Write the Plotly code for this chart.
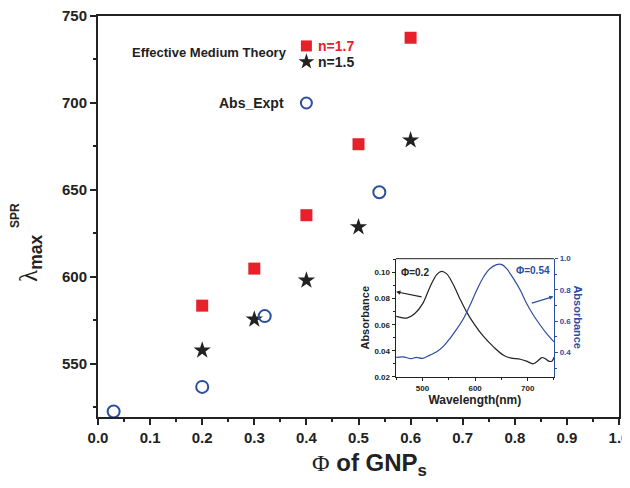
import plotly.graph_objects as go

# ---- main data ----
phi_theory = [0.2, 0.3, 0.4, 0.5, 0.6]
spr_n17 = [583.5, 604.8, 635.5, 676.3, 737.5]
spr_n15 = [557.8, 575.6, 598.0, 628.7, 678.6]
phi_expt = [0.03, 0.2, 0.32, 0.54]
spr_expt = [522.7, 536.8, 577.5, 648.7]

# legend key positions (data coords)
key_x = [0.4, 0.4, 0.4]
key_y = [732.8, 723.7, 700.0]

# ---- inset data ----
wl_02 = [450, 460, 470, 485, 500, 514, 527, 536, 546, 558, 571, 584, 600, 616, 635, 654, 667,
         686, 698, 710, 717, 727, 733, 740, 746, 750]
abs_02 = [0.0664, 0.0655, 0.0651, 0.0684, 0.0760, 0.0888, 0.0985, 0.1010, 0.0990, 0.0913, 0.0800,
          0.0697, 0.0595, 0.0510, 0.0430, 0.0366, 0.0345, 0.0335, 0.0320, 0.0300, 0.0315, 0.0348,
          0.0340, 0.0320, 0.0320, 0.0350]
wl_054 = [450, 463, 478, 488, 500, 514, 527, 540, 552, 565, 578, 590, 603, 616, 628, 641, 651,
          660, 673, 686, 698, 711, 724, 736, 750]
abs_054 = [0.368, 0.372, 0.360, 0.368, 0.362, 0.383, 0.404, 0.440, 0.489, 0.549, 0.617, 0.700,
           0.798, 0.883, 0.936, 0.962, 0.962, 0.936, 0.872, 0.798, 0.713, 0.638, 0.574, 0.521, 0.468]

RED = "#e8202a"
BLUE = "#2b4ea2"
BLK = "#222222"
FONT = "Liberation Sans, Arial, sans-serif"

fig = go.Figure()

fig.add_trace(go.Scatter(x=phi_theory, y=spr_n17, mode="markers",
                         marker=dict(symbol="square", size=12, color=RED), xaxis="x", yaxis="y"))
fig.add_trace(go.Scatter(x=phi_theory, y=spr_n15, mode="markers",
                         marker=dict(symbol="star", size=13, color=BLK), xaxis="x", yaxis="y"))
fig.add_trace(go.Scatter(x=phi_expt, y=spr_expt, mode="markers",
                         marker=dict(symbol="circle-open", size=12, color=BLUE, line=dict(width=2)),
                         xaxis="x", yaxis="y"))
# legend keys
fig.add_trace(go.Scatter(x=[key_x[0]], y=[key_y[0]], mode="markers",
                         marker=dict(symbol="square", size=11, color=RED)))
fig.add_trace(go.Scatter(x=[key_x[1]], y=[key_y[1]], mode="markers",
                         marker=dict(symbol="star", size=12, color=BLK)))
fig.add_trace(go.Scatter(x=[key_x[2]], y=[key_y[2]], mode="markers",
                         marker=dict(symbol="circle-open", size=11, color=BLUE, line=dict(width=2))))

# inset
fig.add_trace(go.Scatter(x=wl_02, y=abs_02, mode="lines", line=dict(color=BLK, width=1.2, shape="spline"),
                         xaxis="x2", yaxis="y2"))
fig.add_trace(go.Scatter(x=wl_054, y=abs_054, mode="lines", line=dict(color=BLUE, width=1.2, shape="spline"),
                         xaxis="x2", yaxis="y3"))

tickfont = dict(family=FONT, size=15, color=BLK, weight="bold")
itick = dict(family=FONT, size=8, color=BLK, weight="bold")

fig.update_layout(
    width=622, height=472,
    margin=dict(l=90, r=11, t=8, b=63, autoexpand=False),
    paper_bgcolor="white", plot_bgcolor="white",
    showlegend=False,
    xaxis=dict(range=[0, 1], domain=[0, 1], dtick=0.1, tickformat=".1f", automargin=False,
               ticklabeloverflow="allow",
               ticks="outside", ticklen=6, tickwidth=1.5, tickcolor=BLK,
               showline=True, linecolor=BLK, linewidth=2, mirror=True,
               showgrid=False, zeroline=False, tickfont=tickfont,
               minor=dict(dtick=0.05, ticks="outside", ticklen=3, tickcolor=BLK)),
    yaxis=dict(range=[519.5, 750], domain=[0, 1], dtick=50, automargin=False,
               ticklabeloverflow="allow",
               ticks="outside", ticklen=6, tickwidth=1.5, tickcolor=BLK,
               showline=True, linecolor=BLK, linewidth=2, mirror=True,
               showgrid=False, zeroline=False, tickfont=tickfont,
               minor=dict(dtick=25, ticks="outside", ticklen=3, tickcolor=BLK)),
    xaxis2=dict(range=[449, 750], domain=[0.5714, 0.8752], anchor="y2", dtick=100, automargin=False,
                ticks="outside", ticklen=3, tickcolor=BLK, showline=True, linecolor=BLK,
                linewidth=1.2, mirror=False, showgrid=False, zeroline=False, tickfont=itick,
                minor=dict(dtick=50, ticks="outside", ticklen=2, tickcolor=BLK),
                title=dict(text="Wavelength(nm)", standoff=2,
                           font=dict(family=FONT, size=12, color=BLK, weight="bold"))),
    yaxis2=dict(range=[0.02, 0.1107], domain=[0.1002, 0.3948], anchor="x2", dtick=0.02,
                automargin=False,
                tickformat=".2f", ticks="outside", ticklen=3, tickcolor=BLK, showline=True,
                linecolor=BLK, linewidth=1.2, showgrid=False, zeroline=False, tickfont=itick,
                minor=dict(dtick=0.01, ticks="outside", ticklen=2, tickcolor=BLK),
                title=dict(text="Absorbance", standoff=2,
                           font=dict(family=FONT, size=11, color=BLK, weight="bold"))),
    yaxis3=dict(range=[0.244, 1.0], overlaying="y2", side="right", anchor="x2", dtick=0.2,
                automargin=False,
                tickformat=".1f", ticks="outside", ticklen=3, tickcolor=BLUE, showline=True,
                linecolor=BLUE, linewidth=1.2, showgrid=False, zeroline=False,
                tickfont=dict(family=FONT, size=8, color=BLUE, weight="bold"),
                minor=dict(dtick=0.1, ticks="outside", ticklen=2, tickcolor=BLUE)),
)

# inset top border
fig.add_shape(type="line", xref="x2", yref="paper", x0=449, x1=750, y0=0.3948, y1=0.3948,
              line=dict(color=BLK, width=1))

ann = []
# axis titles
ann.append(dict(text="<span style='font-family:Liberation Serif'>Φ</span> <b>of GNP<sub>s</sub></b>",
                xref="paper", yref="paper", x=0.522, y=-0.119,
                xanchor="center", yanchor="middle",
                showarrow=False, font=dict(family=FONT, size=24, color=BLK)))
ann.append(dict(text="<span style='font-family:Liberation Serif'>λ</span><b><sub>max</sub></b>",
                xref="paper", yref="paper", x=-0.13, y=0.395,
                xanchor="center", yanchor="middle",
                textangle=-90, showarrow=False, font=dict(family=FONT, size=25, color=BLK)))
ann.append(dict(text="<b>SPR</b>", xref="paper", yref="paper", x=-0.158, y=0.503,
                xanchor="center", yanchor="middle",
                textangle=-90, showarrow=False, font=dict(family=FONT, size=12, color=BLK)))
# legend texts
ann.append(dict(text="Effective Medium Theory", xref="x", yref="y", x=0.367, y=728.8,
                xanchor="right", yanchor="middle", showarrow=False,
                font=dict(family=FONT, size=13, color=BLK, weight="bold")))
ann.append(dict(text="n=1.7", xref="x", yref="y", x=0.418, y=key_y[0], xanchor="left",
                yanchor="middle",
                showarrow=False, font=dict(family=FONT, size=14, color=RED, weight="bold")))
ann.append(dict(text="n=1.5", xref="x", yref="y", x=0.418, y=key_y[1], xanchor="left",
                yanchor="middle",
                showarrow=False, font=dict(family=FONT, size=14, color=BLK, weight="bold")))
ann.append(dict(text="Abs_Expt", xref="x", yref="y", x=0.36, y=key_y[2], xanchor="right",
                yanchor="middle",
                showarrow=False, font=dict(family=FONT, size=14, color=BLK, weight="bold")))
# inset annotations
ann.append(dict(text="Φ=0.2", xref="x2", yref="y2", x=455, y=0.100, xanchor="left",
                yanchor="middle",
                showarrow=False, font=dict(family=FONT, size=10, color=BLK, weight="bold")))
ann.append(dict(text="", xref="x2", yref="y2", x=450, y=0.0853, ax=501, ay=0.0811,
                axref="x2", ayref="y2", showarrow=True, arrowhead=2, arrowsize=0.7,
                arrowwidth=1.2, arrowcolor=BLK))
ann.append(dict(text="Φ=0.54", xref="x2", yref="y3", x=746, y=0.925, xanchor="right",
                yanchor="middle",
                showarrow=False, font=dict(family=FONT, size=10, color=BLUE, weight="bold")))
ann.append(dict(text="", xref="x2", yref="y3", x=749, y=0.758, ax=705, ay=0.713,
                axref="x2", ayref="y3", showarrow=True, arrowhead=2, arrowsize=0.7,
                arrowwidth=1.2, arrowcolor=BLUE))
ann.append(dict(text="Absorbance", xref="paper", yref="paper", x=0.922, y=0.2475,
                xanchor="center", yanchor="middle",
                textangle=90, showarrow=False,
                font=dict(family=FONT, size=11, color=BLUE, weight="bold")))
fig.update_layout(annotations=ann)

fig.write_html("out.html")
